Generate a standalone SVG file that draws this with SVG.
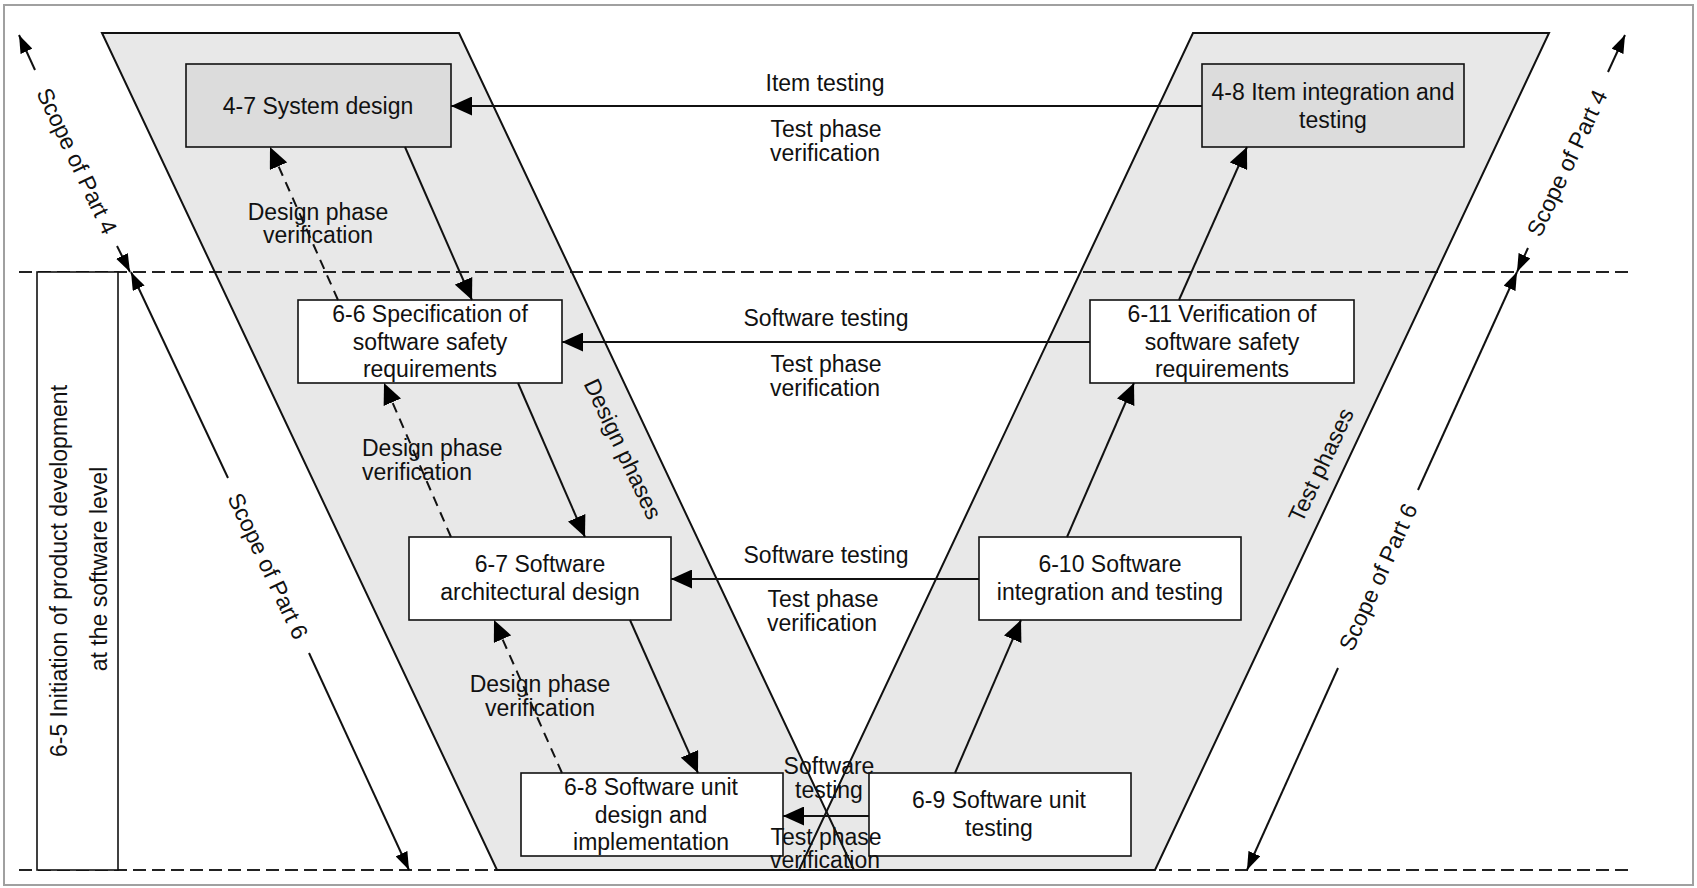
<svg xmlns="http://www.w3.org/2000/svg" width="1697" height="888" viewBox="0 0 1697 888">
  <style>
    .t { font-family: "Liberation Sans", Arial, sans-serif; font-size: 23px; fill: #111; }
    .m { text-anchor: middle; }
    .band { fill: #e8e8e8; stroke: none; }
    .bandline { fill: none; stroke: #111; stroke-width: 2; stroke-linejoin: miter; }
    .box { fill: #ffffff; stroke: #111; stroke-width: 1.6; }
    .gbox { fill: #dcdcdc; stroke: #111; stroke-width: 1.6; }
    .ln { stroke: #111; stroke-width: 2; fill: none; }
    .dl { stroke: #111; stroke-width: 2; fill: none; stroke-dasharray: 10 7; }
    .hd { stroke: #222; stroke-width: 1.8; fill: none; stroke-dasharray: 13 6; }
  </style>
  <defs>
    <marker id="ah" viewBox="0 0 21 19" markerWidth="21" markerHeight="19" refX="21" refY="9.5" orient="auto" markerUnits="userSpaceOnUse">
      <path d="M0,0 L21,9.5 L0,19 z" fill="#000"/>
    </marker>
    <marker id="as" viewBox="0 0 18 13" markerWidth="18" markerHeight="13" refX="18" refY="6.5" orient="auto" markerUnits="userSpaceOnUse">
      <path d="M0,0 L18,6.5 L0,13 z" fill="#000"/>
    </marker>
  </defs>

  <rect x="4" y="5" width="1689" height="880" fill="#ffffff" stroke="#a0a0a0" stroke-width="2"/>

  <!-- V bands -->
  <g id="bands">
    <polygon class="band" points="102,33 459,33 854,870 497,870"/>
    <polygon class="band" points="1193,33 1549,33 1155,870 799,870"/>
  </g>

  <!-- dashed scope boundaries -->
  <g id="boundaries">
    <line class="hd" x1="19" y1="272" x2="1634" y2="272"/>
    <line class="hd" x1="19" y1="870" x2="1634" y2="870"/>
  </g>

  <g id="band-outlines">
    <polygon class="bandline" points="102,33 459,33 854,870 497,870"/>
    <polygon class="bandline" points="1193,33 1549,33 1155,870 799,870"/>
  </g>

  <!-- left vertical box -->
  <g id="n6-5">
    <rect x="37" y="272" width="81" height="598" fill="#ffffff" stroke="#111" stroke-width="1.6"/>
    <text class="t m" transform="translate(67,571) rotate(-90)">6-5 Initiation of product development</text>
    <text class="t m" transform="translate(107,569) rotate(-90)">at the software level</text>
  </g>

  <!-- nodes -->
  <g id="n4-7">
    <rect class="gbox" x="186" y="64" width="265" height="83"/>
    <text class="t m" x="318" y="114">4-7 System design</text>
  </g>
  <g id="n4-8">
    <rect class="gbox" x="1202" y="64" width="262" height="83"/>
    <text class="t m" x="1333" y="100">4-8 Item integration and</text>
    <text class="t m" x="1333" y="127.5">testing</text>
  </g>
  <g id="n6-6">
    <rect class="box" x="298" y="300" width="264" height="83"/>
    <text class="t m" x="430" y="322">6-6 Specification of</text>
    <text class="t m" x="430" y="349.5">software safety</text>
    <text class="t m" x="430" y="377">requirements</text>
  </g>
  <g id="n6-11">
    <rect class="box" x="1090" y="300" width="264" height="83"/>
    <text class="t m" x="1222" y="322">6-11 Verification of</text>
    <text class="t m" x="1222" y="349.5">software safety</text>
    <text class="t m" x="1222" y="377">requirements</text>
  </g>
  <g id="n6-7">
    <rect class="box" x="409" y="537" width="262" height="83"/>
    <text class="t m" x="540" y="572">6-7 Software</text>
    <text class="t m" x="540" y="600">architectural design</text>
  </g>
  <g id="n6-10">
    <rect class="box" x="979" y="537" width="262" height="83"/>
    <text class="t m" x="1110" y="572">6-10 Software</text>
    <text class="t m" x="1110" y="600">integration and testing</text>
  </g>
  <g id="n6-8">
    <rect class="box" x="521" y="773" width="262" height="83"/>
    <text class="t m" x="651" y="795">6-8 Software unit</text>
    <text class="t m" x="651" y="822.5">design and</text>
    <text class="t m" x="651" y="850">implementation</text>
  </g>
  <g id="n6-9">
    <rect class="box" x="869" y="773" width="262" height="83"/>
    <text class="t m" x="999" y="808">6-9 Software unit</text>
    <text class="t m" x="999" y="836">testing</text>
  </g>

  <!-- connectors -->
  <g id="connectors">
    <line class="ln" x1="1202" y1="106" x2="451" y2="106" marker-end="url(#ah)"/>
    <line class="ln" x1="1090" y1="342" x2="562" y2="342" marker-end="url(#ah)"/>
    <line class="ln" x1="979" y1="579" x2="671" y2="579" marker-end="url(#ah)"/>
    <line class="ln" x1="869" y1="816" x2="783" y2="816" marker-end="url(#ah)"/>

    <line class="ln" x1="405" y1="147" x2="472" y2="300" marker-end="url(#ah)"/>
    <line class="ln" x1="518" y1="383" x2="585" y2="537" marker-end="url(#ah)"/>
    <line class="ln" x1="630" y1="620" x2="698" y2="773" marker-end="url(#ah)"/>

    <line class="ln" x1="955" y1="773" x2="1021" y2="620" marker-end="url(#ah)"/>
    <line class="ln" x1="1067" y1="537" x2="1134" y2="383" marker-end="url(#ah)"/>
    <line class="ln" x1="1179" y1="300" x2="1247" y2="147" marker-end="url(#ah)"/>

    <line class="dl" x1="338" y1="300" x2="270" y2="147" marker-end="url(#ah)"/>
    <line class="dl" x1="451" y1="537" x2="384" y2="383" marker-end="url(#ah)"/>
    <line class="dl" x1="562" y1="773" x2="494" y2="620" marker-end="url(#ah)"/>

    <!-- scope arrows -->
    <line class="ln" x1="35" y1="70" x2="19" y2="35" marker-end="url(#as)"/>
    <line class="ln" x1="117" y1="246" x2="130" y2="272" marker-end="url(#as)"/>
    <line class="ln" x1="228" y1="478" x2="131" y2="272" marker-end="url(#as)"/>
    <line class="ln" x1="309" y1="653" x2="409" y2="870" marker-end="url(#as)"/>
    <line class="ln" x1="1608" y1="72" x2="1625" y2="35" marker-end="url(#as)"/>
    <line class="ln" x1="1528" y1="248" x2="1517" y2="272" marker-end="url(#as)"/>
    <line class="ln" x1="1418" y1="490" x2="1517" y2="272" marker-end="url(#as)"/>
    <line class="ln" x1="1338" y1="668" x2="1247" y2="870" marker-end="url(#as)"/>
  </g>

  <!-- connector labels -->
  <g id="labels">
    <text class="t m" x="825" y="91">Item testing</text>
    <text class="t m" x="826" y="137">Test phase</text>
    <text class="t m" x="825" y="161">verification</text>

    <text class="t m" x="826" y="326">Software testing</text>
    <text class="t m" x="826" y="372">Test phase</text>
    <text class="t m" x="825" y="396">verification</text>

    <text class="t m" x="826" y="563">Software testing</text>
    <text class="t m" x="823" y="607">Test phase</text>
    <text class="t m" x="822" y="631">verification</text>

    <text class="t m" x="829" y="774">Software</text>
    <text class="t m" x="829" y="798">testing</text>
    <text class="t m" x="826" y="845">Test phase</text>
    <text class="t m" x="825" y="868">verification</text>

    <text class="t m" x="318" y="220">Design phase</text>
    <text class="t m" x="318" y="243">verification</text>
    <text class="t" x="362" y="456">Design phase</text>
    <text class="t" x="362" y="480">verification</text>
    <text class="t m" x="540" y="692">Design phase</text>
    <text class="t m" x="540" y="716">verification</text>

    <text class="t m" transform="translate(623,449) rotate(64.8)" y="8">Design phases</text>
    <text class="t m" transform="translate(1321,465) rotate(-64.8)" y="8">Test phases</text>

    <text class="t m" transform="translate(77,161) rotate(64.8)" y="8">Scope of Part 4</text>
    <text class="t m" transform="translate(268,566) rotate(64.8)" y="8">Scope of Part 6</text>
    <text class="t m" transform="translate(1567,163) rotate(-64.8)" y="8">Scope of Part 4</text>
    <text class="t m" transform="translate(1378,577) rotate(-65.7)" y="8">Scope of Part 6</text>
  </g>
</svg>
